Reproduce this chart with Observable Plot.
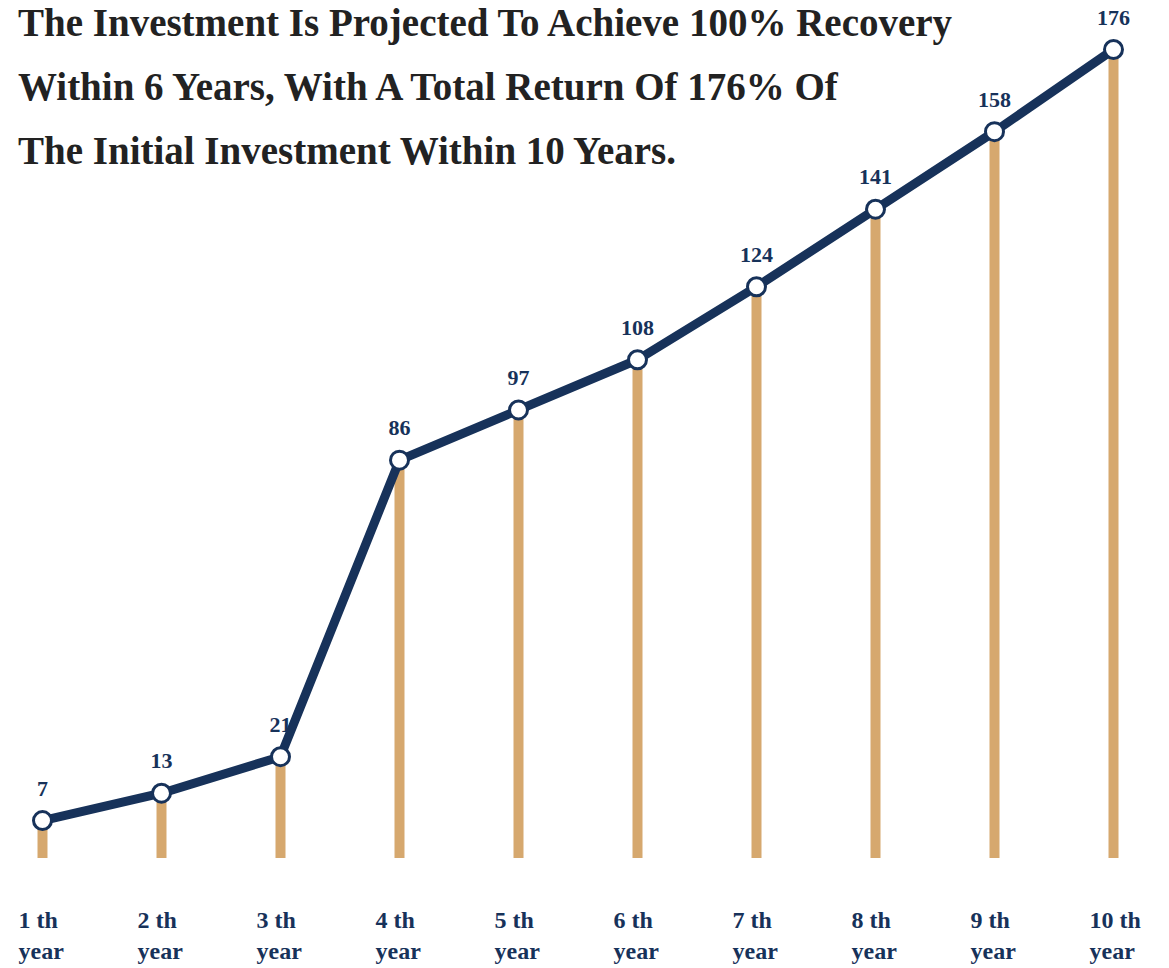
<!DOCTYPE html>
<html>
<head>
<meta charset="utf-8">
<script src="https://cdn.jsdelivr.net/npm/d3@7"></script>
<script src="https://cdn.jsdelivr.net/npm/@observablehq/plot@0.6"></script>
<style>
  html, body { margin: 0; padding: 0; background: #fff; }
  #wrap { position: relative; width: 1169px; height: 968px; }
  #title {
    position: absolute; left: 18px; top: -9px;
    font-family: "Liberation Serif", serif; font-weight: bold;
    font-size: 39px; line-height: 64px; color: #222;
    margin: 0; white-space: nowrap; z-index: 2;
  }
  #chart { position: absolute; left: 0; top: 0; }
</style>
</head>
<body>
<div id="wrap">
  <div id="title">The Investment Is Projected To Achieve 100% Recovery<br>Within 6 Years, With A Total Return Of 176% Of<br>The Initial Investment Within 10 Years.</div>
  <div id="chart"></div>
</div>
<script>
const years = ["1 th", "2 th", "3 th", "4 th", "5 th", "6 th", "7 th", "8 th", "9 th", "10 th"];
const values = [7, 13, 21, 86, 97, 108, 124, 141, 158, 176];

const data = years.map((y, i) => ({year: y, value: values[i]}));
const navy = "#17325a";
const tan = "#d6a86e";
const font = "Liberation Serif, serif";

const chart = Plot.plot({
  width: 1169,
  height: 968,
  marginLeft: 41,
  marginRight: 55,
  marginTop: 49,
  marginBottom: 116,
  style: {fontFamily: font, background: "transparent", overflow: "visible"},
  x: {type: "point", domain: years, padding: 0, axis: null},
  y: {domain: [0, 176], axis: null},
  marks: [
    Plot.ruleX(data, {x: "year", y1: "value", y2: 0, stroke: tan, strokeWidth: 10, insetBottom: -6}),
    Plot.line(data, {x: "year", y: "value", stroke: navy, strokeWidth: 9, strokeLinejoin: "round"}),
    Plot.dot(data, {x: "year", y: "value", r: 9, fill: "white", stroke: navy, strokeWidth: 3}),
    Plot.text(data, {x: "year", y: "value", text: d => String(d.value), dy: -32, fill: navy, fontSize: 22, fontWeight: "bold"}),
    Plot.text(data, {x: "year", frameAnchor: "bottom", text: d => d.year + "\nyear", dy: 53, dx: -24, textAnchor: "start", lineAnchor: "top", lineHeight: 1.3, fill: navy, fontSize: 24, fontWeight: "bold"})
  ]
});
document.getElementById("chart").appendChild(chart);
</script>
</body>
</html>
